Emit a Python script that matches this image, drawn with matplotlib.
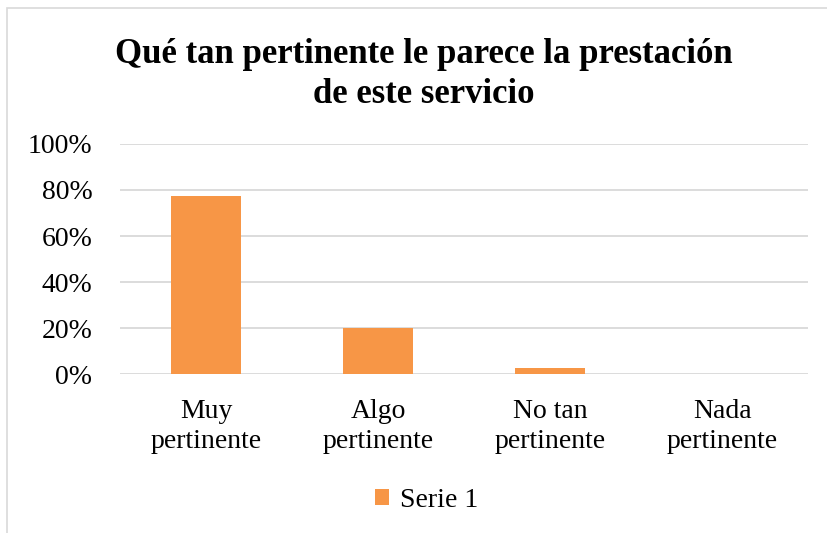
import matplotlib
matplotlib.use('Agg')
import matplotlib.pyplot as plt
from matplotlib.patches import Rectangle

categories = ['Muy\npertinente', 'Algo\npertinente', 'No tan\npertinente', 'Nada\npertinente']
serie1 = [0.775, 0.20, 0.025, 0.0]
yticks = [0, 0.2, 0.4, 0.6, 0.8, 1.0]
ytick_labels = ['0%', '20%', '40%', '60%', '80%', '100%']

plt.rcParams['font.family'] = ['Liberation Serif', 'DejaVu Serif']

fig = plt.figure(figsize=(8.28, 5.33), dpi=100)
# outer chart border
fig.patches.append(Rectangle((7/828, -0.01), 1.0, 1 - 8/533 + 0.01,
                             transform=fig.transFigure, fill=False,
                             edgecolor='#D9D9D9', linewidth=1.2))

ax = fig.add_axes([0.145, 0.298, 0.831, 0.432])
x = range(len(categories))
ax.bar(x, serie1, width=0.41, color='#F79646', label='Serie 1', zorder=3)

ax.set_xlim(-0.5, 3.5)
ax.set_ylim(0, 1.0)
ax.set_yticks(yticks)
ax.set_yticklabels(ytick_labels, fontsize=20)
ax.set_xticks(list(x))
ax.set_xticklabels(categories, fontsize=20, linespacing=1.28)
ax.grid(axis='y', color='#D9D9D9', linewidth=1.3, zorder=0)
ax.set_axisbelow(True)
for s in ax.spines.values():
    s.set_visible(False)
ax.tick_params(axis='y', length=0, pad=20, colors='black')
ax.tick_params(axis='x', length=0, pad=18, colors='black')

# title, two lines
fig.text(0.512, 1 - 63/533, 'Qué tan pertinente le parece la prestación',
         ha='center', va='baseline', fontsize=25, fontweight='bold')
fig.text(0.512, 1 - 103/533, 'de este servicio',
         ha='center', va='baseline', fontsize=25, fontweight='bold')

fig.legend(loc='center', bbox_to_anchor=(0.515, 0.0605), frameon=False,
           fontsize=20, handlelength=0.5, handleheight=0.5, handletextpad=0.4)

fig.savefig('out.png', dpi=100)
